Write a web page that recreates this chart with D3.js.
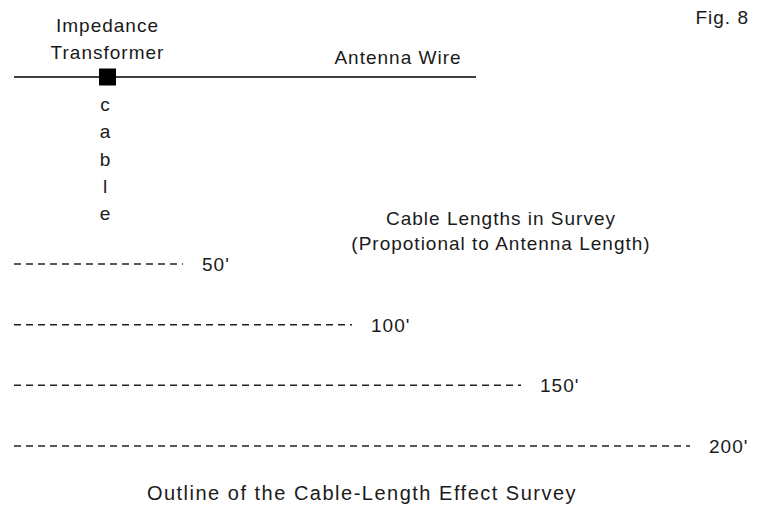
<!DOCTYPE html>
<html>
<head>
<meta charset="utf-8">
<script src="https://cdn.jsdelivr.net/npm/d3@7"></script>
<style>
  html, body { margin: 0; padding: 0; background: #fff; }
  svg { display: block; }
  text { font-family: "Liberation Sans", Arial, sans-serif; fill: #1a1a1a; letter-spacing: 1px; }
</style>
</head>
<body>
<svg id="chart" width="762" height="508"></svg>
<script>
// ---- data ----
const cableLengths = [50, 100, 150, 200];
const cableLabels = ["50'", "100'", "150'", "200'"];
const cableLetters = ["c", "a", "b", "l", "e"];
const transformerLabel = ["Impedance", "Transformer"];
const antennaLabel = "Antenna Wire";
const surveyNote = ["Cable Lengths in Survey", "(Propotional to Antenna Length)"];
const figLabel = "Fig. 8";
const titleText = "Outline of the Cable-Length Effect Survey";

// ---- layout ----
const svg = d3.select("#chart");
const fontSize = 19;

// horizontal scale: cable length in feet -> pixels
const x = d3.scaleLinear().domain([0, 200]).range([14, 690]);
// vertical placement of each survey line
const y = d3.scalePoint().domain(cableLengths).range([264, 446]);

// antenna wire
const wireY = 77;
svg.append("line")
  .attr("x1", 14).attr("x2", 476)
  .attr("y1", wireY).attr("y2", wireY)
  .attr("stroke", "#000").attr("stroke-width", 1.5);

// transformer block
const tfX = 107.5;
svg.append("rect")
  .attr("x", tfX - 8.5).attr("y", wireY - 8.5)
  .attr("width", 17).attr("height", 17)
  .attr("fill", "#000");

// transformer label
svg.selectAll("text.tf").data(transformerLabel).join("text")
  .attr("class", "tf")
  .attr("x", tfX).attr("y", (d, i) => 32 + i * 27)
  .attr("text-anchor", "middle")
  .attr("font-size", fontSize)
  .text(d => d);

// antenna label
svg.append("text")
  .attr("x", 398).attr("y", 64)
  .attr("text-anchor", "middle")
  .attr("font-size", fontSize)
  .text(antennaLabel);

// vertical "cable"
svg.selectAll("text.cab").data(cableLetters).join("text")
  .attr("class", "cab")
  .attr("x", 105.5).attr("y", (d, i) => 111 + i * 27.3)
  .attr("text-anchor", "middle")
  .attr("font-size", fontSize)
  .text(d => d);

// fig label
svg.append("text")
  .attr("x", 749).attr("y", 24)
  .attr("text-anchor", "end")
  .attr("font-size", fontSize)
  .text(figLabel);

// survey note
svg.selectAll("text.note").data(surveyNote).join("text")
  .attr("class", "note")
  .attr("x", 501).attr("y", (d, i) => 225 + i * 25)
  .attr("text-anchor", "middle")
  .attr("font-size", fontSize)
  .text(d => d);

// dashed cable lines
svg.selectAll("line.cable").data(cableLengths).join("line")
  .attr("class", "cable")
  .attr("x1", x(0)).attr("x2", d => x(d))
  .attr("y1", d => y(d)).attr("y2", d => y(d))
  .attr("stroke", "#222").attr("stroke-width", 1.5)
  .attr("stroke-dasharray", "7,5");

// length labels
svg.selectAll("text.len").data(cableLengths).join("text")
  .attr("class", "len")
  .attr("x", d => x(d) + 19)
  .attr("y", d => y(d) + 7)
  .attr("font-size", fontSize)
  .text((d, i) => cableLabels[i]);

// title
svg.append("text")
  .attr("x", 362).attr("y", 500)
  .attr("text-anchor", "middle")
  .attr("font-size", 20)
  .style("letter-spacing", "1.5px")
  .text(titleText);
</script>
</body>
</html>
